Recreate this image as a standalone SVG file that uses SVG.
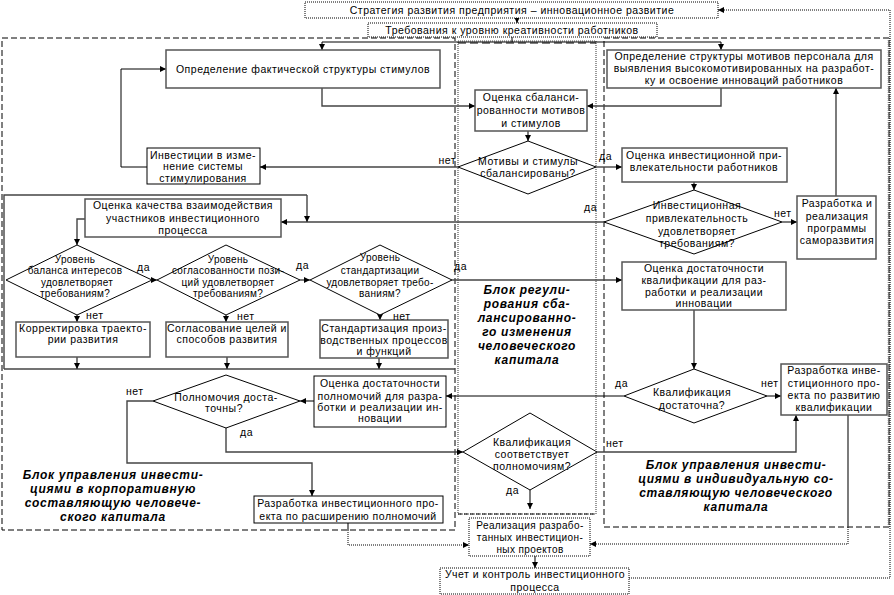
<svg xmlns="http://www.w3.org/2000/svg" width="894" height="595" viewBox="0 0 894 595">
<defs>
<marker id="ar" markerUnits="userSpaceOnUse" markerWidth="7" markerHeight="7" refX="6" refY="3" orient="auto"><path d="M0,0 L6,3 L0,6 z" fill="#000"/></marker>
<style>
text{font-family:"Liberation Sans",Arial,sans-serif;font-size:10.5px;letter-spacing:0.5px;fill:#000;text-anchor:middle}
.s{font-size:10px;letter-spacing:0.3px}
.sm{font-size:10px;letter-spacing:0.4px}
.lbl{text-anchor:start}
.end{text-anchor:end}
.blk{font-weight:bold;font-style:italic;font-size:12px;letter-spacing:0.7px}
.box{fill:#fff;stroke:#555;stroke-width:1.5}
.tbox{fill:#fff;stroke:#000;stroke-width:1}
.dbox{fill:#fff;stroke:#000;stroke-width:1;stroke-dasharray:1 1}
.dia{fill:#fff;stroke:#000;stroke-width:1}
.c{fill:none;stroke:#444;stroke-width:1.4}
.ct{fill:none;stroke:#000;stroke-width:1}
.cd{fill:none;stroke:#000;stroke-width:1;stroke-dasharray:1 1}
.a{marker-end:url(#ar)}
</style>
</defs>
<rect width="894" height="595" fill="#fff"/>
<g id="blocks">
<rect x="2" y="38" width="453" height="492" fill="none" stroke="#000" stroke-width="1" stroke-dasharray="6 3"/>
<rect x="604" y="38" width="285" height="489" fill="none" stroke="#000" stroke-width="1" stroke-dasharray="6 3"/>
<line x1="889" y1="38" x2="889" y2="527" stroke="#777" stroke-width="2.5" stroke-dasharray="1 1"/>
<rect x="458" y="41" width="138" height="473" fill="none" stroke="#555" stroke-width="1.2" stroke-dasharray="1 1"/>
<line x1="458" y1="43" x2="596" y2="43" stroke="#000" stroke-width="1" stroke-dasharray="8 4"/>
<line x1="458" y1="514" x2="596" y2="514" stroke="#000" stroke-width="1" stroke-dasharray="4 2"/>
</g>
<g id="connectors">
<path class="ct a" d="M517,18 V23"/>
<path class="ct" d="M512,37 V42 M322,42 H721"/>
<path class="ct a" d="M322,42 V50"/>
<path class="ct a" d="M721,42 V50"/>
<path class="c a" d="M322,88 V106 H475"/>
<path class="c a" d="M721,88 V106 H587"/>
<path class="c a" d="M528,131 V141"/>
<path class="c a" d="M458,167 H260"/>
<path class="ct a" d="M147,167 H121 V69 H166"/>
<path class="c a" d="M596,167 H622"/>
<path class="c a" d="M694,182 V190"/>
<path class="c a" d="M782,222 H797"/>
<path class="c a" d="M836,196 V88"/>
<path class="c a" d="M604,222 H281"/>
<path class="c" d="M4,369 V195 H307"/>
<path class="c a" d="M307,195 V222"/>
<path class="c" d="M4,369 H455"/>
<path class="c a" d="M85,219 H77 V245"/>
<path class="c a" d="M77,315 V322"/>
<path class="c a" d="M152,280 H157"/>
<path class="c a" d="M226,315 V322"/>
<path class="c a" d="M300,280 H310"/>
<path class="c a" d="M380,315 V320"/>
<path class="c a" d="M452,280 H622"/>
<path class="c a" d="M77,357 V369"/>
<path class="c a" d="M227,357 V369"/>
<path class="c a" d="M379,358 V369"/>
<path class="c a" d="M694,310 V369"/>
<path class="c a" d="M767,396 H781"/>
<path class="ct a" d="M624,396 H446"/>
<path class="c a" d="M314,401 H300"/>
<path class="c a" d="M153,401 H127 V463 H312 V496"/>
<path class="c a" d="M226,428 V452 H463"/>
<path class="c a" d="M597,452 H796 V415"/>
<path class="c a" d="M530,490 V509"/>
<path class="c" d="M348,523 V530"/>
<path class="cd a" d="M348,530 V545 H469"/>
<path class="c" d="M848,415 V527"/>
<path class="cd a" d="M848,527 V544 H590"/>
<path class="c a" d="M535,556 V568"/>
<path class="cd a" d="M629,578 H890 V10 H718"/>
</g>
<g id="h1"><rect class="dbox" x="305" y="2" width="413" height="16"/><text x="512" y="14">Стратегия развития предприятия – инновационное развитие</text></g>
<g id="h2"><rect class="dbox" x="368" y="23" width="289" height="14"/><text x="512" y="34">Требования к уровню креативности работников</text></g>
<g id="n1"><rect class="box" x="166" y="50" width="274" height="38"/><text x="303" y="73">Определение фактической структуры стимулов</text></g>
<g id="m1"><rect class="box" x="475" y="90" width="112" height="41"/><text x="531" y="101">Оценка сбаланси-</text><text x="531" y="114">рованности мотивов</text><text x="531" y="127">и стимулов</text></g>
<g id="d1"><polygon class="dia" points="528,141 596,167 528,194 458,167"/><text x="528" y="165">Мотивы и стимулы</text><text x="528" y="177">сбалансированы?</text></g>
<g id="l1"><rect class="tbox" x="147" y="148" width="113" height="36"/><text x="203" y="159">Инвестиции в изме-</text><text x="203" y="170">нение системы</text><text x="203" y="182">стимулирования</text></g>
<g id="r1"><rect class="box" x="607" y="50" width="274" height="38"/><text x="744" y="60">Определение структуры мотивов персонала для</text><text x="744" y="72">выявления высокомотивированных на разработ-</text><text x="744" y="84">ку и освоение инноваций работников</text></g>
<g id="r2"><rect class="box" x="622" y="148" width="165" height="34"/><text x="704" y="159">Оценка инвестиционной при-</text><text x="704" y="171">влекательности работников</text></g>
<g id="d2"><polygon class="dia" points="694,190 782,222 694,254 604,222"/><text x="697" y="209">Инвестиционная</text><text x="697" y="222">привлекательность</text><text x="697" y="235">удовлетворяет</text><text x="697" y="247">требованиям?</text></g>
<g id="r3"><rect class="box" x="797" y="196" width="79" height="63"/><text x="837" y="207">Разработка и</text><text x="837" y="220">реализация</text><text x="837" y="232">программы</text><text x="837" y="244">саморазвития</text></g>
<g id="l2"><rect class="box" x="85" y="199" width="196" height="38"/><text x="183" y="209">Оценка качества взаимодействия</text><text x="183" y="222">участников инвестиционного</text><text x="183" y="234">процесса</text></g>
<g id="ld1"><polygon class="dia" points="77,245 152,280 77,315 6,280"/><text class="s" x="75" y="263">Уровень</text><text class="s" x="75" y="274">баланса интересов</text><text class="s" x="77" y="286">удовлетворяет</text><text class="s" x="75" y="297">требованиям?</text></g>
<g id="ld2"><polygon class="dia" points="226,245 300,280 226,315 157,280"/><text class="s" x="228" y="263">Уровень</text><text class="s" x="228" y="274">согласованности пози-</text><text class="s" x="228" y="286">ций удовлетворяет</text><text class="s" x="228" y="297">требованиям?</text></g>
<g id="ld3"><polygon class="dia" points="380,245 452,280 380,315 310,280"/><text class="s" x="380" y="261">Уровень</text><text class="s" x="380" y="274">стандартизации</text><text class="s" x="380" y="286">удовлетворяет требо-</text><text class="s" x="380" y="297">ваниям?</text></g>
<g id="l3"><rect class="box" x="16" y="322" width="134" height="35"/><text x="83" y="332">Корректировка траекто-</text><text x="83" y="343">рии развития</text></g>
<g id="l4"><rect class="box" x="166" y="322" width="122" height="35"/><text x="227" y="332">Согласование целей и</text><text x="227" y="343">способов развития</text></g>
<g id="l5"><rect class="box" x="320" y="320" width="128" height="38"/><text x="384" y="332">Стандартизация произ-</text><text x="384" y="344">водственных процессов</text><text x="384" y="355">и функций</text></g>
<g id="r4"><rect class="box" x="622" y="262" width="164" height="48"/><text x="704" y="272">Оценка достаточности</text><text x="704" y="284">квалификации для раз-</text><text x="704" y="296">работки и реализации</text><text x="704" y="307">инновации</text></g>
<g id="d3"><polygon class="dia" points="694,369 767,396 694,423 624,396"/><text x="692" y="396">Квалификация</text><text x="692" y="409">достаточна?</text></g>
<g id="r5"><rect class="box" x="781" y="364" width="106" height="51"/><text x="834" y="374">Разработка инве-</text><text x="834" y="387">стиционного про-</text><text x="834" y="399">екта по развитию</text><text x="834" y="411">квалификации</text></g>
<g id="l6"><rect class="tbox" x="314" y="376" width="132" height="51"/><text x="380" y="387">Оценка достаточности</text><text x="380" y="400">полномочий для разра-</text><text x="380" y="411">ботки и реализации ин-</text><text x="380" y="422">новации</text></g>
<g id="d5"><polygon class="dia" points="226,375 300,401 226,428 153,401"/><text x="226" y="401">Полномочия доста-</text><text x="224" y="412">точны?</text></g>
<g id="d4"><polygon class="dia" points="530,413 597,452 530,490 463,452"/><text x="532" y="446">Квалификация</text><text x="532" y="458">соответствует</text><text x="532" y="470">полномочиям?</text></g>
<g id="l7"><rect class="tbox" x="254" y="496" width="189" height="27"/><text x="348" y="507">Разработка инвестиционного про-</text><text x="348" y="520">екта по расширению полномочий</text></g>
<g id="m2"><rect class="dbox" x="469" y="518" width="121" height="38"/><text class="sm" x="530" y="529">Реализация разрабо-</text><text class="sm" x="530" y="541">танных инвестицион-</text><text class="sm" x="530" y="553">ных проектов</text></g>
<g id="m3"><rect class="dbox" x="440" y="568" width="189" height="26"/><text x="535" y="578">Учет и контроль инвестиционного</text><text x="535" y="591">процесса</text></g>
<g id="labels">
<text class="end" x="456" y="164">нет</text>
<text class="lbl" x="599" y="160">да</text>
<text class="lbl" x="774" y="217">нет</text>
<text class="lbl" x="584" y="211">да</text>
<text class="lbl" x="137" y="271">да</text>
<text class="lbl" x="296" y="269">да</text>
<text class="lbl" x="454" y="270">да</text>
<text class="lbl" x="86" y="319">нет</text>
<text class="lbl" x="237" y="320">нет</text>
<text class="lbl" x="393" y="320">нет</text>
<text class="lbl" x="761" y="387">нет</text>
<text class="lbl" x="615" y="387">да</text>
<text class="lbl" x="606" y="447">нет</text>
<text class="lbl" x="126" y="395">нет</text>
<text class="lbl" x="240" y="436">да</text>
<text class="lbl" x="506" y="494">да</text>
</g>
<g id="blocklabels">
<text class="blk" x="113" y="479">Блок управления инвести-</text>
<text class="blk" x="113" y="493">циями в корпоративную</text>
<text class="blk" x="113" y="507">составляющую человече-</text>
<text class="blk" x="113" y="521">ского капитала</text>
<text class="blk" x="527" y="294">Блок регули-</text>
<text class="blk" x="527" y="308">рования сба-</text>
<text class="blk" x="527" y="322">лансированно-</text>
<text class="blk" x="527" y="336">го изменения</text>
<text class="blk" x="527" y="350">человеческого</text>
<text class="blk" x="527" y="364">капитала</text>
<text class="blk" x="736" y="469">Блок управления инвести-</text>
<text class="blk" x="736" y="483">циями в индивидуальную со-</text>
<text class="blk" x="736" y="497">ставляющую человеческого</text>
<text class="blk" x="736" y="511">капитала</text>
</g>
</svg>
